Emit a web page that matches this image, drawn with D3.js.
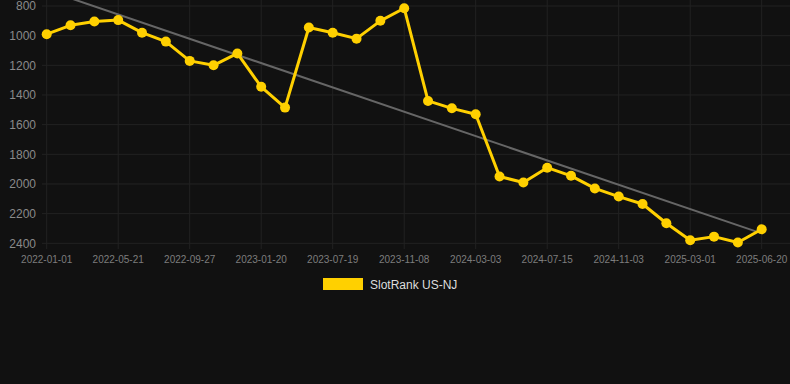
<!DOCTYPE html>
<html><head><meta charset="utf-8">
<script src="https://cdn.jsdelivr.net/npm/d3@7"></script>
<style>html,body{margin:0;padding:0;background:#111111;}svg{display:block;}</style>
</head><body>
<svg id="c" width="790" height="384"></svg>
<script>
const values = [990,930,905,895,980,1040,1170,1200,1120,1345,1485,945,980,1020,900,815,1440,1490,1530,1950,1990,1890,1945,2030,2085,2135,2265,2380,2355,2395,2305];
const tickIndex = [0,3,6,9,12,15,18,21,24,27,30];
const tickLabels = ["2022-01-01","2022-05-21","2022-09-27","2023-01-20","2023-07-19","2023-11-08","2024-03-03","2024-07-15","2024-11-03","2025-03-01","2025-06-20"];
const yTicks = [800,1000,1200,1400,1600,1800,2000,2200,2400];
const seriesName = "SlotRank US-NJ";

const svg = d3.select("#c");
svg.append("rect").attr("width",790).attr("height",384).attr("fill","#111111");

const x = d3.scaleLinear().domain([0, values.length-1]).range([46.7, 761.7]);
const y = d3.scaleLinear().domain([800, 2400]).range([6, 243.3]);

// grid
svg.append("g").selectAll("line").data(yTicks).join("line")
  .attr("x1",42).attr("x2",790).attr("y1",d=>y(d)).attr("y2",d=>y(d))
  .attr("stroke","#222222").attr("stroke-width",1);
svg.append("g").selectAll("line").data(tickIndex).join("line")
  .attr("x1",d=>x(d)).attr("x2",d=>x(d)).attr("y1",0).attr("y2",249)
  .attr("stroke","#222222").attr("stroke-width",1);

// y labels
svg.append("g").selectAll("text").data(yTicks).join("text")
  .attr("x",36).attr("y",d=>y(d)).attr("dy","0.35em").attr("text-anchor","end")
  .attr("font-family","Liberation Sans, Arial, sans-serif").attr("font-size",12)
  .attr("fill","#8a8a8a").text(d=>d);

// x labels
svg.append("g").selectAll("text").data(tickIndex).join("text")
  .attr("x",d=>x(d)).attr("y",263).attr("text-anchor","middle")
  .attr("font-family","Liberation Sans, Arial, sans-serif").attr("font-size",10)
  .attr("fill","#7d7d7d").text((d,i)=>tickLabels[i]);

// trend (least squares)
const n = values.length;
const mx = d3.mean(values,(v,i)=>i), my = d3.mean(values);
const slope = d3.sum(values,(v,i)=>(i-mx)*(v-my)) / d3.sum(values,(v,i)=>(i-mx)*(i-mx));
const icpt = my - slope*mx;
svg.append("line")
  .attr("x1",x(0)).attr("y1",y(icpt)).attr("x2",x(n-1)).attr("y2",y(icpt+slope*(n-1)))
  .attr("stroke","#666666").attr("stroke-width",2);

// series line
const line = d3.line().x((d,i)=>x(i)).y(d=>y(d));
svg.append("path").datum(values).attr("d",line)
  .attr("fill","none").attr("stroke","#FFD000").attr("stroke-width",3).attr("stroke-linejoin","round");
svg.append("g").selectAll("circle").data(values).join("circle")
  .attr("cx",(d,i)=>x(i)).attr("cy",d=>y(d)).attr("r",5).attr("fill","#FFD000");

// legend
svg.append("rect").attr("x",323).attr("y",278).attr("width",40).attr("height",12).attr("fill","#FFD000");
svg.append("text").attr("x",370).attr("y",288.5)
  .attr("font-family","Liberation Sans, Arial, sans-serif").attr("font-size",12)
  .attr("fill","#dddddd").text(seriesName);
</script>
</body></html>
